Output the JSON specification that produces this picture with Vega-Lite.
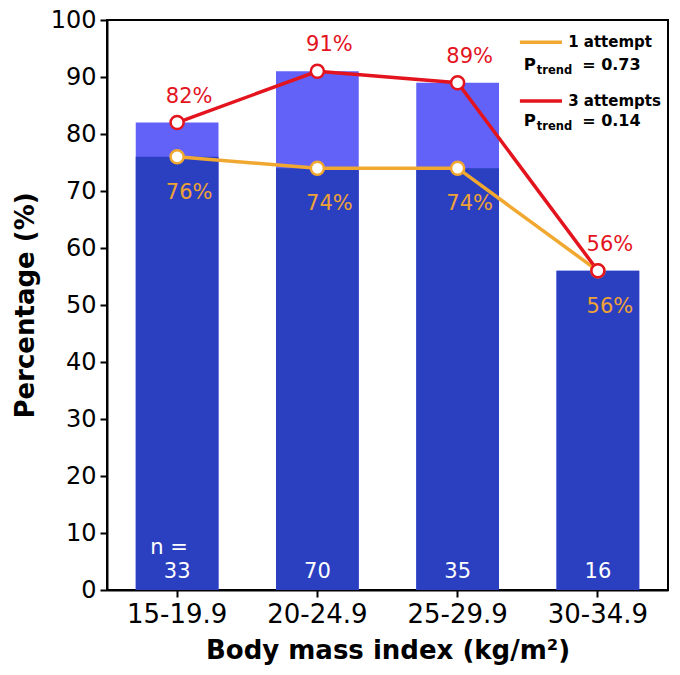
{
  "$schema": "https://vega.github.io/schema/vega-lite/v6.json",
  "width": 561,
  "height": 570,
  "autosize": {"type": "none"},
  "padding": {"left": 107, "top": 20, "right": 12, "bottom": 85},
  "background": "white",
  "config": {
    "font": "DejaVu Sans",
    "view": {"stroke": "black", "strokeWidth": 2},
    "axis": {
      "grid": false,
      "domainColor": "black",
      "domainWidth": 2,
      "tickColor": "black",
      "tickWidth": 2,
      "tickSize": 7,
      "labelFontSize": 24,
      "labelColor": "black",
      "labelFont": "DejaVu Sans",
      "titleFont": "DejaVu Sans",
      "titleFontSize": 26,
      "titleFontWeight": "bold",
      "titleColor": "black"
    }
  },
  "datasets": {
    "bmi": [
      {"bmi": "15-19.9", "one": 76, "three": 82, "n": "33"},
      {"bmi": "20-24.9", "one": 74, "three": 91, "n": "70"},
      {"bmi": "25-29.9", "one": 74, "three": 89, "n": "35"},
      {"bmi": "30-34.9", "one": 56, "three": 56, "n": "16"}
    ],
    "legend": [
      {"series": "1 attempt", "p": "= 0.73"},
      {"series": "3 attempts", "p": "= 0.14"}
    ]
  },
  "resolve": {"scale": {"x": "independent"}},
  "layer": [
    {
      "data": {"name": "bmi"},
      "layer": [
        {
          "mark": {"type": "bar", "color": "#6262f8"},
          "encoding": {"y": {"field": "three", "type": "quantitative"}}
        },
        {
          "mark": {"type": "bar", "color": "#2b40c0"},
          "encoding": {"y": {"field": "one", "type": "quantitative"}}
        },
        {
          "mark": {"type": "line", "color": "#f0a830", "strokeWidth": 3.5},
          "encoding": {"y": {"field": "one", "type": "quantitative"}}
        },
        {
          "mark": {"type": "line", "color": "#e3141e", "strokeWidth": 3.5},
          "encoding": {"y": {"field": "three", "type": "quantitative"}}
        },
        {
          "mark": {"type": "point", "filled": true, "fill": "white", "stroke": "#f0a830", "strokeWidth": 2.5, "size": 170, "opacity": 1},
          "encoding": {"y": {"field": "one", "type": "quantitative"}}
        },
        {
          "mark": {"type": "point", "filled": true, "fill": "white", "stroke": "#e3141e", "strokeWidth": 2.5, "size": 170, "opacity": 1},
          "encoding": {"y": {"field": "three", "type": "quantitative"}}
        },
        {
          "transform": [{"calculate": "datum.one + '%'", "as": "lbl"}],
          "mark": {"type": "text", "color": "#eea236", "fontSize": 21, "dx": 12, "dy": 36},
          "encoding": {
            "y": {"field": "one", "type": "quantitative"},
            "text": {"field": "lbl"}
          }
        },
        {
          "transform": [{"calculate": "datum.three + '%'", "as": "lbl"}],
          "mark": {"type": "text", "color": "#e3141e", "fontSize": 21, "dx": 12, "dy": -26},
          "encoding": {
            "y": {"field": "three", "type": "quantitative"},
            "text": {"field": "lbl"}
          }
        },
        {
          "mark": {"type": "text", "color": "white", "fontSize": 21, "baseline": "bottom", "dy": -8},
          "encoding": {
            "y": {"datum": 0, "type": "quantitative"},
            "text": {"field": "n"}
          }
        },
        {
          "transform": [{"filter": "datum.bmi == '15-19.9'"}],
          "mark": {"type": "text", "color": "white", "fontSize": 21, "baseline": "bottom", "dy": -32, "dx": -8},
          "encoding": {
            "y": {"datum": 0, "type": "quantitative"},
            "text": {"value": "n ="}
          }
        }
      ],
      "encoding": {
        "x": {
          "field": "bmi",
          "type": "nominal",
          "sort": null,
          "scale": {"paddingInner": 0.41, "paddingOuter": 0.205},
          "axis": {"title": "Body mass index (kg/m²)", "labelAngle": 0, "labelPadding": 4, "labelFontSize": 26, "titlePadding": 10}
        },
        "y": {
          "type": "quantitative",
          "scale": {"domain": [0, 100], "nice": false},
          "axis": {"title": "Percentage (%)", "values": [0, 10, 20, 30, 40, 50, 60, 70, 80, 90, 100], "labelPadding": 4, "titlePadding": 12}
        }
      }
    },
    {
      "data": {"name": "legend"},
      "transform": [{"filter": "datum.series == '1 attempt'"}],
      "layer": [
        {
          "mark": {"type": "rule", "color": "#f0a830", "strokeWidth": 3.5},
          "encoding": {
            "x": {"datum": 0.736, "type": "quantitative", "scale": {"domain": [0, 1], "nice": false, "zero": false}, "axis": null},
            "x2": {"datum": 0.811},
            "y": {"datum": 96.1, "type": "quantitative"}
          }
        },
        {
          "mark": {"type": "text", "align": "left", "baseline": "middle", "fontSize": 15, "fontWeight": "bold", "color": "black"},
          "encoding": {
            "x": {"datum": 0.822, "type": "quantitative"},
            "y": {"datum": 96.1, "type": "quantitative"},
            "text": {"field": "series"}
          }
        },
        {
          "mark": {"type": "text", "align": "left", "baseline": "alphabetic", "fontSize": 16.5, "fontWeight": "bold", "color": "black"},
          "encoding": {
            "x": {"datum": 0.743, "type": "quantitative"},
            "y": {"datum": 91.2, "type": "quantitative"},
            "text": {"value": "P"}
          }
        },
        {
          "mark": {"type": "text", "align": "left", "baseline": "alphabetic", "fontSize": 11.5, "fontWeight": "bold", "color": "black", "dy": 4},
          "encoding": {
            "x": {"datum": 0.766, "type": "quantitative"},
            "y": {"datum": 91.2, "type": "quantitative"},
            "text": {"value": "trend"}
          }
        },
        {
          "mark": {"type": "text", "align": "left", "baseline": "alphabetic", "fontSize": 16, "fontWeight": "bold", "color": "black"},
          "encoding": {
            "x": {"datum": 0.847, "type": "quantitative"},
            "y": {"datum": 91.2, "type": "quantitative"},
            "text": {"field": "p"}
          }
        }
      ]
    },
    {
      "data": {"name": "legend"},
      "transform": [{"filter": "datum.series == '3 attempts'"}],
      "layer": [
        {
          "mark": {"type": "rule", "color": "#e3141e", "strokeWidth": 3.5},
          "encoding": {
            "x": {"datum": 0.736, "type": "quantitative", "scale": {"domain": [0, 1], "nice": false, "zero": false}, "axis": null},
            "x2": {"datum": 0.811},
            "y": {"datum": 85.8, "type": "quantitative"}
          }
        },
        {
          "mark": {"type": "text", "align": "left", "baseline": "middle", "fontSize": 15, "fontWeight": "bold", "color": "black"},
          "encoding": {
            "x": {"datum": 0.822, "type": "quantitative"},
            "y": {"datum": 85.8, "type": "quantitative"},
            "text": {"field": "series"}
          }
        },
        {
          "mark": {"type": "text", "align": "left", "baseline": "alphabetic", "fontSize": 16.5, "fontWeight": "bold", "color": "black"},
          "encoding": {
            "x": {"datum": 0.743, "type": "quantitative"},
            "y": {"datum": 81.4, "type": "quantitative"},
            "text": {"value": "P"}
          }
        },
        {
          "mark": {"type": "text", "align": "left", "baseline": "alphabetic", "fontSize": 11.5, "fontWeight": "bold", "color": "black", "dy": 4},
          "encoding": {
            "x": {"datum": 0.766, "type": "quantitative"},
            "y": {"datum": 81.4, "type": "quantitative"},
            "text": {"value": "trend"}
          }
        },
        {
          "mark": {"type": "text", "align": "left", "baseline": "alphabetic", "fontSize": 16, "fontWeight": "bold", "color": "black"},
          "encoding": {
            "x": {"datum": 0.847, "type": "quantitative"},
            "y": {"datum": 81.4, "type": "quantitative"},
            "text": {"field": "p"}
          }
        }
      ]
    }
  ]
}
